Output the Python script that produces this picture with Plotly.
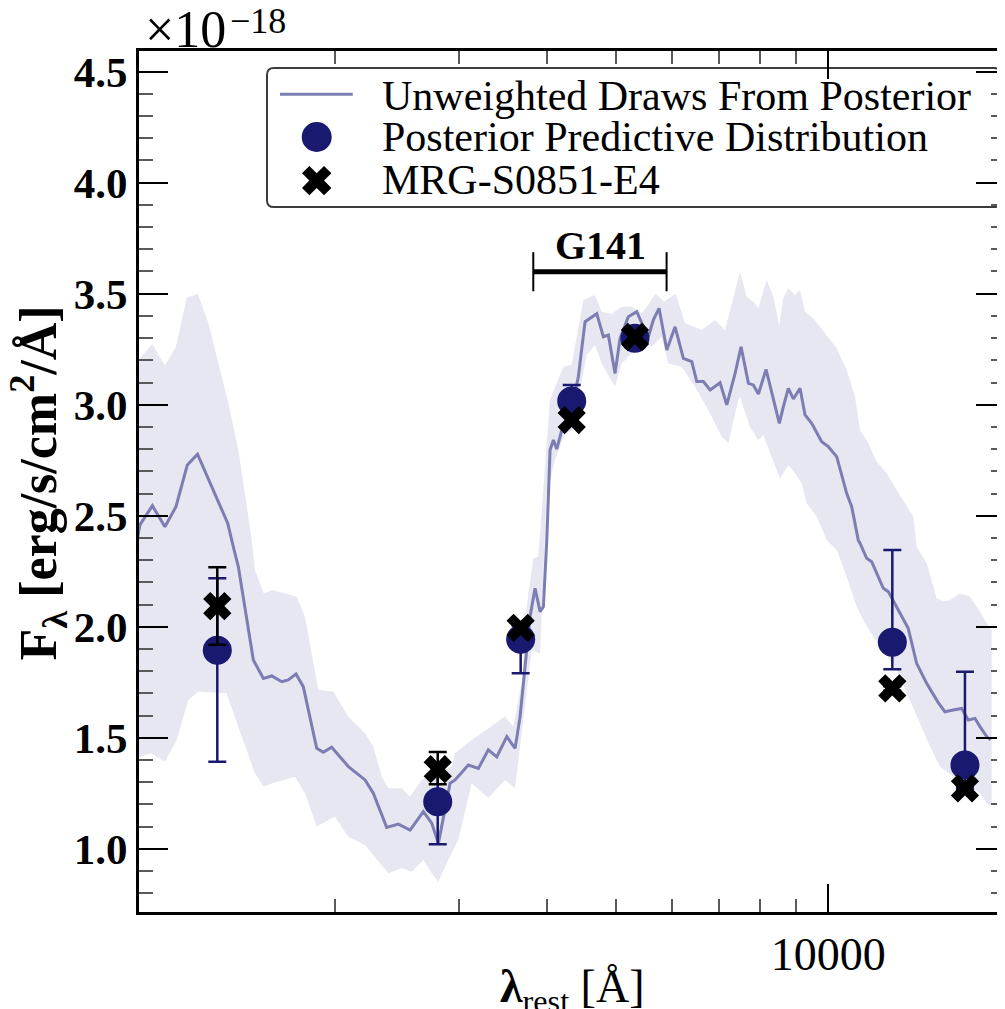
import math
import plotly.graph_objects as go

# ---------------- data (flux in units of 1e-18 erg/s/cm^2/A) ----------------
mean_wave = [1050, 1058, 1102, 1148, 1190, 1235, 1277, 1409, 1439, 1459, 1532, 1583, 1627,
             1681, 1717, 1761, 1803, 1884, 1925, 1978, 2089, 2206, 2266, 2367, 2459, 2555,
             2668, 2742, 2802, 2911, 2959, 3090, 3193, 3298, 3390, 3503, 3599, 3658, 3718,
             3779, 3841, 3905, 3947, 3991, 4034, 4078, 4123, 4191, 4306, 4424, 4522, 4597,
             4698, 4800, 4879, 4987, 5069, 5208, 5353, 5441, 5560, 5651, 5757, 5904, 6066,
             6232, 6405, 6511, 6653, 6800, 7025, 7180, 7378, 7523, 7705, 7831, 7960, 8162,
             8316, 8524, 8636, 8778, 8923, 9119, 9269, 9473, 9787, 10000, 10278, 10618,
             10793, 11028, 11090, 11334, 11521, 11965, 12162, 12635, 12979, 13340, 13783,
             14315, 14632, 15034, 15452, 15788, 16138, 16403, 16766, 16986]
mean_flux = [2.40, 2.458, 2.545, 2.45, 2.54, 2.728, 2.777, 2.466, 2.345, 2.27, 1.85, 1.767,
             1.778, 1.752, 1.76, 1.787, 1.73, 1.452, 1.434, 1.457, 1.37, 1.31, 1.25, 1.096,
             1.111, 1.084, 1.167, 1.115, 1.024, 1.295, 1.31, 1.377, 1.362, 1.445, 1.414,
             1.505, 1.452, 1.595, 1.82, 2.045, 2.173, 2.068, 2.09, 2.39, 2.796, 2.841, 2.80,
             2.886, 2.946, 3.126, 3.374, 3.389, 3.41, 3.306, 3.314, 3.141, 3.299, 3.396,
             3.419, 3.367, 3.306, 3.382, 3.434, 3.246, 3.351, 3.209, 3.194, 3.104, 3.104,
             3.066, 3.099, 2.999, 3.141, 3.261, 3.096, 3.089, 3.048, 3.159, 3.051, 2.916,
             2.991, 3.074, 3.026, 3.074, 2.954, 2.916, 2.833, 2.811, 2.766, 2.601, 2.541,
             2.39, 2.376, 2.308, 2.293, 2.173, 2.158, 2.06, 1.993, 1.835, 1.745, 1.658,
             1.617, 1.625, 1.632, 1.58, 1.587, 1.55, 1.505, 1.49]

upper_wave = [1050, 1058, 1102, 1148, 1190, 1233, 1278, 1323, 1412, 1459, 1524, 1540, 1585,
              1629, 1765, 1813, 1894, 1989, 2088, 2205, 2266, 2329, 2380, 2486, 2554, 2654,
              2771, 2927, 2958, 3124, 3298, 3482, 3578, 3677, 3738, 3819, 3882, 3990, 4033,
              4212, 4329, 4496, 4671, 4774, 4932, 5096, 5265, 5440, 5694, 5851, 6078, 6266,
              6616, 6910, 7139, 7497, 7662, 7829, 7958, 8179, 8357, 8522, 8634, 8777, 8971,
              9118, 9268, 9522, 9733, 10000, 10278, 10619, 10910, 11090, 11394, 11711,
              12099, 12500, 12843, 13196, 13343, 13786, 14243, 14553, 14875, 15368, 15878,
              16405, 16767, 17043]
upper_flux = [3.15, 3.209, 3.272, 3.176, 3.261, 3.482, 3.50, 3.367, 3.006, 2.796, 2.39, 2.255,
              2.15, 2.165, 2.135, 2.045, 1.715, 1.707, 1.595, 1.52, 1.46, 1.324, 1.272,
              1.272, 1.234, 1.31, 1.34, 1.37, 1.43, 1.49, 1.542, 1.595, 1.55, 1.745, 2.09,
              2.308, 2.315, 2.85, 3.02, 3.171, 3.179, 3.472, 3.494, 3.419, 3.41, 3.441,
              3.441, 3.41, 3.50, 3.464, 3.50, 3.367, 3.336, 3.382, 3.336, 3.599, 3.486,
              3.464, 3.434, 3.562, 3.486, 3.359, 3.479, 3.524, 3.494, 3.517, 3.419, 3.389,
              3.351, 3.299, 3.254, 3.156, 3.036, 2.886, 2.826, 2.743, 2.691, 2.616, 2.556,
              2.496, 2.36, 2.286, 2.128, 2.113, 2.12, 2.15, 2.135, 2.068, 2.015, 1.985]

lower_wave = [1050, 1058, 1099, 1148, 1193, 1239, 1280, 1404, 1475, 1540, 1585, 1629, 1755,
              1813, 1884, 1999, 2088, 2205, 2278, 2380, 2486, 2569, 2668, 2742, 2801, 2894,
              2990, 3124, 3298, 3482, 3598, 3677, 3799, 3904, 3990, 4099, 4235, 4352, 4448,
              4546, 4671, 4774, 4986, 5096, 5265, 5440, 5620, 5807, 5933, 6198, 6473, 6760,
              7062, 7216, 7455, 7497, 7745, 7958, 8089, 8316, 8541, 8777, 8971, 9169, 9320,
              9629, 9948, 10278, 10619, 10971, 11272, 11582, 11966, 12500, 12983, 13488,
              13935, 14397, 15036, 15878, 16405, 16855, 17043]
lower_flux = [1.42, 1.414, 1.43, 1.392, 1.49, 1.67, 1.707, 1.70, 1.505, 1.34, 1.28, 1.295,
              1.324, 1.25, 1.10, 1.144, 1.054, 1.017, 0.964, 0.889, 0.912, 0.896, 0.949,
              0.889, 0.851, 0.949, 1.04, 1.295, 1.228, 1.31, 1.272, 1.52, 1.895, 1.88, 2.60,
              2.75, 2.871, 2.886, 3.066, 3.224, 3.269, 3.186, 3.081, 3.186, 3.231, 3.291,
              3.261, 3.306, 3.186, 3.171, 3.081, 2.976, 2.856, 2.826, 3.021, 3.036, 2.90,
              2.841, 2.863, 2.766, 2.668, 2.728, 2.691, 2.646, 2.556, 2.496, 2.39, 2.345,
              2.225, 2.09, 2.015, 1.955, 1.895, 1.805, 1.685, 1.565, 1.46, 1.37, 1.324,
              1.279, 1.25, 1.197, 1.197]

phot_wave = [1362, 2796, 3665, 4329, 5321, 12323, 15619]
ppd_flux = [1.894, 1.212, 1.943, 3.017, 3.299, 1.930, 1.377]
ppd_err_hi = [0.324, 0.124, 0.06, 0.072, 0.03, 0.415, 0.420]
ppd_err_lo = [0.502, 0.192, 0.153, 0.07, 0.03, 0.122, 0.105]
obs_flux = [2.093, 1.358, 1.995, 2.931, 3.305, 1.722, 1.272]
obs_err_hi = [0.175, 0.078, 0.02, 0.02, 0.02, 0.01, 0.01]
obs_err_lo = [0.174, 0.068, 0.02, 0.02, 0.02, 0.01, 0.01]

g141_wave = [3819, 5900]
g141_flux = [3.599, 3.599]
g141_cap = [0.088, 0.088]
g141_label_wave = 4755
g141_label_flux = 3.715

y_major = [1.0, 1.5, 2.0, 2.5, 3.0, 3.5, 4.0, 4.5]
x_major = [10000]
x_minor = [2000, 3000, 4000, 5000, 6000, 7000, 8000, 9000]

legend_labels = ["Unweighted Draws From Posterior", "Posterior Predictive Distribution",
                 "MRG-S0851-E4"]

# ---------------- styles ----------------
NAVY = "rgb(25,25,112)"
LINE_C = "rgb(124,125,178)"
BAND_C = "rgb(230,231,240)"
FONT = "Liberation Serif"

fig = go.Figure()

fig.add_trace(go.Scatter(
    x=upper_wave + lower_wave[::-1], y=upper_flux + lower_flux[::-1],
    fill="toself", fillcolor=BAND_C, line=dict(width=0), mode="lines",
    showlegend=False, hoverinfo="skip"))

fig.add_trace(go.Scatter(
    x=mean_wave, y=mean_flux, mode="lines", line=dict(color=LINE_C, width=3),
    showlegend=False))

fig.add_trace(go.Scatter(
    x=phot_wave, y=ppd_flux, mode="markers",
    marker=dict(symbol="circle", size=29, color=NAVY, line=dict(width=0)),
    error_y=dict(type="data", symmetric=False, array=ppd_err_hi, arrayminus=ppd_err_lo,
                 color=NAVY, thickness=2.5, width=9),
    showlegend=False))

fig.add_trace(go.Scatter(
    x=phot_wave, y=obs_flux, mode="markers",
    marker=dict(symbol="x", size=25, color="black", line=dict(width=0)),
    error_y=dict(type="data", symmetric=False, array=obs_err_hi, arrayminus=obs_err_lo,
                 color="black", thickness=2.5, width=9),
    showlegend=False))

fig.add_trace(go.Scatter(
    x=g141_wave, y=g141_flux, mode="lines", line=dict(color="black", width=5),
    error_y=dict(type="data", array=g141_cap, color="black", thickness=2, width=0),
    showlegend=False))

# ---------------- custom legend ----------------
fig.add_trace(go.Scatter(
    x=[0.2052], y=[0.9001], xaxis="x2", yaxis="y2", mode="markers",
    marker=dict(symbol="circle", size=30, color=NAVY), showlegend=False))
fig.add_trace(go.Scatter(
    x=[0.2052], y=[0.8495], xaxis="x2", yaxis="y2", mode="markers",
    marker=dict(symbol="x", size=26, color="black", line=dict(width=0)), showlegend=False))

bx0, bx1, by0, by1, rx, ry = 0.1478, 0.9954, 0.8188, 0.9803, 0.008, 0.008
box_path = (f"M {bx0+rx},{by0} L {bx1-rx},{by0} Q {bx1},{by0} {bx1},{by0+ry} "
            f"L {bx1},{by1-ry} Q {bx1},{by1} {bx1-rx},{by1} L {bx0+rx},{by1} "
            f"Q {bx0},{by1} {bx0},{by1-ry} L {bx0},{by0+ry} Q {bx0},{by0} {bx0+rx},{by0} Z")

shapes = [
    dict(type="path", path=box_path, xref="paper", yref="paper",
         line=dict(color="rgb(60,60,60)", width=2), fillcolor="white", layer="below"),
    dict(type="line", xref="paper", yref="paper", x0=0.1628, x1=0.2468, y0=0.9497, y1=0.9497,
         line=dict(color=LINE_C, width=3)),
]

annotations = []
for txt, yy in zip(legend_labels, [0.9477, 0.9001, 0.8502]):
    annotations.append(dict(text=txt, xref="paper", yref="paper", x=0.2783, y=yy,
                            xanchor="left", yanchor="middle", showarrow=False,
                            font=dict(family=FONT, size=42, color="black")))

annotations.append(dict(text="<b>G141</b>", x=math.log10(g141_label_wave), y=g141_label_flux,
                        xref="x", yref="y", xanchor="center", yanchor="middle",
                        showarrow=False, font=dict(family=FONT, size=40, color="black")))

# offset multiplier  ×10^-18
annotations.append(dict(text="×10", xref="paper", yref="paper", x=0, y=1,
                        xanchor="left", yanchor="bottom", xshift=4, yshift=-9,
                        showarrow=False, font=dict(family=FONT, size=52, color="black")))
annotations.append(dict(text="−18", xref="paper", yref="paper", x=0, y=1,
                        xanchor="left", yanchor="middle", xshift=89, yshift=30,
                        showarrow=False, font=dict(family=FONT, size=36, color="black")))

# axis titles
annotations.append(dict(text="<b>λ</b><sub>rest</sub> [Å]", xref="paper", yref="paper",
                        x=0.5, y=0, xanchor="center", yanchor="middle", yshift=-78,
                        showarrow=False, font=dict(family=FONT, size=46, color="black")))
annotations.append(dict(text="<b>F<sub>λ</sub> [erg/s/cm<sup>2</sup>/Å]</b>",
                        xref="paper", yref="paper", x=0, y=0.5, xanchor="center",
                        yanchor="middle", xshift=-100, yshift=-2, textangle=-90,
                        showarrow=False, font=dict(family=FONT, size=52, color="black")))

# the page body adds an 8 px offset: figure is sized/margined to compensate
fig.update_layout(
    width=997, height=1001,
    margin=dict(l=131, r=0, t=43, b=97),
    paper_bgcolor="white", plot_bgcolor="white",
    font=dict(family=FONT, color="black"),
    shapes=shapes, annotations=annotations,
    showlegend=False,
    xaxis=dict(
        type="log", range=[3.02324, 4.25039], automargin=False,
        tickmode="array", tickvals=x_major, ticktext=["10000"],
        ticks="inside", ticklen=28, tickwidth=2, tickcolor="black",
        minor=dict(tickmode="array", tickvals=x_minor, ticks="inside", ticklen=13,
                   tickwidth=2, tickcolor="rgb(90,90,90)", showgrid=False),
        showline=True, linewidth=3, linecolor="black", mirror="ticks",
        showgrid=False, zeroline=False,
        tickfont=dict(family=FONT, size=46),
    ),
    yaxis=dict(
        range=[0.7149, 4.5932], automargin=False,
        tickmode="array", tickvals=y_major, ticktext=[f"<b>{v:.1f}</b>" for v in y_major],
        ticks="inside", ticklen=29, tickwidth=2, tickcolor="black",
        minor=dict(dtick=0.1, ticks="inside", ticklen=14, tickwidth=2,
                   tickcolor="rgb(90,90,90)", showgrid=False),
        showline=True, linewidth=3, linecolor="black", mirror="ticks",
        showgrid=False, zeroline=False,
        tickfont=dict(family=FONT, size=43),
    ),
    xaxis2=dict(overlaying="x", range=[0, 1], visible=False, fixedrange=True),
    yaxis2=dict(overlaying="y", range=[0, 1], visible=False, fixedrange=True),
)

fig.write_html("out.html")
